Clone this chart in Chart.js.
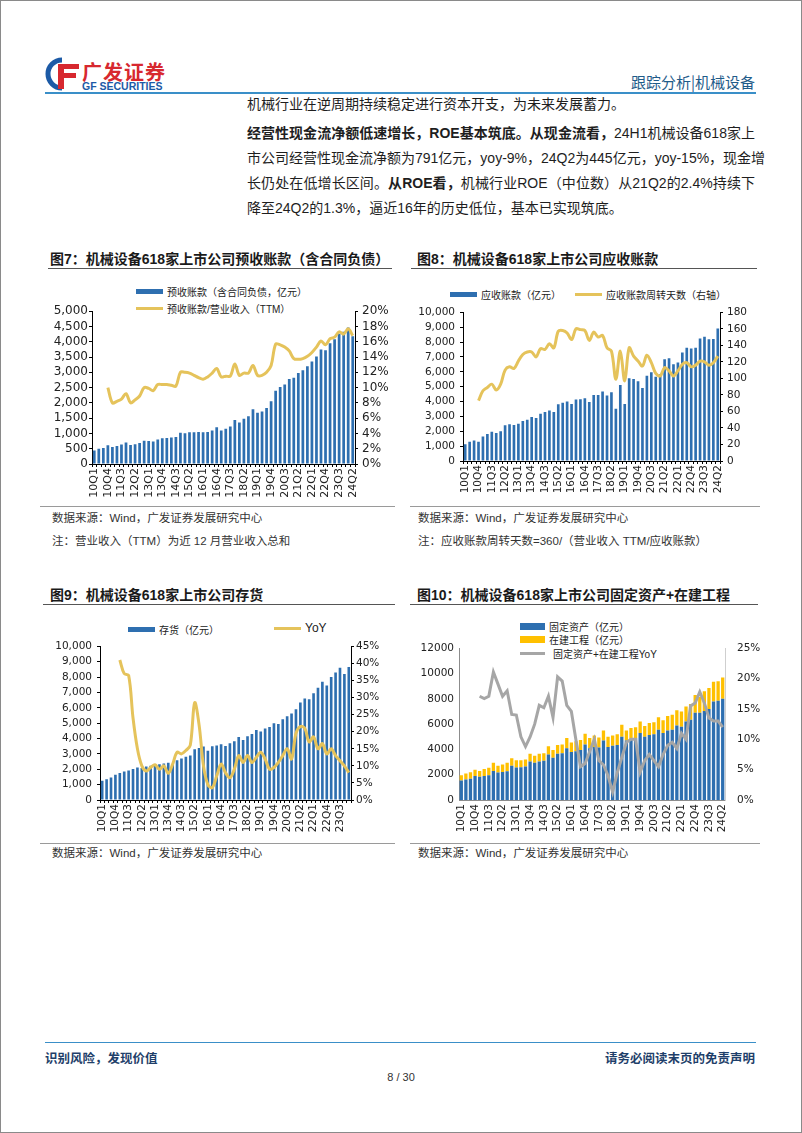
<!DOCTYPE html>
<html>
<head>
<meta charset="utf-8">
<script src="https://cdn.jsdelivr.net/npm/chart.js@4.4.1/dist/chart.umd.min.js"></script>
<style>
  html, body { margin: 0; padding: 0; background: #fff; }
  #page { position: relative; width: 802px; height: 1133px; overflow: hidden;
          font-family: "Liberation Sans", "Noto Sans CJK SC", sans-serif; color: #222; }
  #frame { position: absolute; left: 0; top: 0; width: 800px; height: 1131px; border: 1px solid #8a8a8a; pointer-events: none; }
  .abs { position: absolute; white-space: nowrap; }
  .para { position: absolute; left: 247px; font-size: 14px; line-height: 18px; white-space: nowrap; color: #1e1e1e; }
  .just { width: 508px; text-align: justify; text-align-last: justify; }
  .title { position: absolute; font-size: 14px; font-weight: bold; color: #1a1a1a; white-space: nowrap; }
  .rule { position: absolute; height: 1px; background: #555; }
  .sep { position: absolute; height: 1px; background: #9a9a9a; }
  .src { position: absolute; font-size: 11.5px; color: #333; white-space: nowrap; }
  .leg { position: absolute; font-size: 10px; color: #222; white-space: nowrap; display: flex; align-items: center; }
  .sw-bar { display: inline-block; width: 27px; height: 5px; background: #2E6FB0; margin-right: 4px; }
  .sw-line { display: inline-block; width: 27px; height: 3px; background: #E5C35B; margin-right: 4px; }
  canvas { position: absolute; }
</style>
</head>
<body>
<div id="page">
  <!-- header -->
  <svg class="abs" style="left:45px;top:57px" width="36" height="34" viewBox="0 0 36 34">
    <path d="M17 3 A14 14 0 1 0 17 31" fill="none" stroke="#1C5AA6" stroke-width="5"/>
    <path d="M13 7 H34 V12 H19 V16 H31 V21 H19 V32 H13 Z" fill="#D7282F"/>
  </svg>
  <div class="abs" style="left:82px;top:57px;font-size:20px;font-weight:bold;color:#D7282F;letter-spacing:1px;font-family:'Noto Sans CJK SC'">广发证券</div>
  <div class="abs" style="left:82px;top:80px;font-size:10.5px;font-weight:bold;color:#1C5AA6">GF SECURITIES</div>
  <div class="abs" style="right:47px;top:71px;font-size:15px;color:#1F5C8A;font-family:'Noto Sans CJK SC'">跟踪分析|机械设备</div>
  <div class="abs" style="left:45px;top:92px;width:711px;height:2px;background:#3A8FC8"></div>

  <!-- body text -->
  <div class="para" style="top:95px">机械行业在逆周期持续稳定进行资本开支，为未来发展蓄力。</div>
  <div class="para just" style="top:124px"><b>经营性现金流净额低速增长，ROE基本筑底。从现金流看，</b>24H1机械设备618家上</div>
  <div class="para just" style="top:149px">市公司经营性现金流净额为791亿元，yoy-9%，24Q2为445亿元，yoy-15%，现金增</div>
  <div class="para just" style="top:174px">长仍处在低增长区间。<b>从ROE看，</b>机械行业ROE（中位数）从21Q2的2.4%持续下</div>
  <div class="para" style="top:199px">降至24Q2的1.3%，逼近16年的历史低位，基本已实现筑底。</div>

  <!-- chart titles row 1 -->
  <div class="title" style="left:50px;top:248px">图7：机械设备618家上市公司预收账款（含合同负债）</div>
  <div class="rule" style="left:48px;top:268px;width:344px"></div>
  <div class="title" style="left:417px;top:248px">图8：机械设备618家上市公司应收账款</div>
  <div class="rule" style="left:411px;top:268px;width:346px"></div>

  <!-- legends row 1 -->
  <div class="leg" style="left:136px;top:284px"><span class="sw-bar"></span>预收账款（含合同负债，亿元）</div>
  <div class="leg" style="left:136px;top:301px"><span class="sw-line"></span>预收账款/营业收入（TTM）</div>
  <div class="leg" style="left:450px;top:287px"><span class="sw-bar"></span>应收账款（亿元）</div>
  <div class="leg" style="left:575px;top:287px"><span class="sw-line"></span>应收账款周转天数（右轴）</div>

  <canvas id="chart7" width="355" height="204" style="left:40px;top:300px"></canvas>
  <canvas id="chart8" width="345" height="205" style="left:410px;top:301px"></canvas>

  <div class="sep" style="left:40px;top:506px;width:355px"></div>
  <div class="sep" style="left:410px;top:506px;width:350px"></div>
  <div class="src" style="left:52px;top:509px">数据来源：Wind，广发证券发展研究中心</div>
  <div class="src" style="left:52px;top:532px">注：营业收入（TTM）为近 12 月营业收入总和</div>
  <div class="src" style="left:418px;top:509px">数据来源：Wind，广发证券发展研究中心</div>
  <div class="src" style="left:418px;top:532px">注：应收账款周转天数=360/（营业收入 TTM/应收账款）</div>

  <!-- chart titles row 2 -->
  <div class="title" style="left:50px;top:584px">图9：机械设备618家上市公司存货</div>
  <div class="rule" style="left:43px;top:604px;width:352px"></div>
  <div class="title" style="left:417px;top:584px">图10：机械设备618家上市公司固定资产+在建工程</div>
  <div class="rule" style="left:410px;top:604px;width:348px"></div>

  <!-- legends row 2 -->
  <div class="leg" style="left:128px;top:622px"><span class="sw-bar"></span>存货（亿元）</div>
  <div class="leg" style="left:274px;top:621px;font-size:12px"><span class="sw-line"></span>YoY</div>
  <div class="leg" style="left:520px;top:619px"><span class="sw-bar" style="height:7px;width:25px"></span>固定资产（亿元）</div>
  <div class="leg" style="left:520px;top:632px"><span class="sw-bar" style="height:7px;width:25px;background:#FFC000"></span>在建工程（亿元）</div>
  <div class="leg" style="left:520px;top:646px"><span class="sw-line" style="background:#A6A6A6;width:25px;margin-right:8px"></span>固定资产+在建工程YoY</div>

  <canvas id="chart9" width="351" height="205" style="left:40px;top:635px"></canvas>
  <canvas id="chart10" width="355" height="207" style="left:410px;top:633px"></canvas>

  <div class="sep" style="left:40px;top:843px;width:355px"></div>
  <div class="sep" style="left:410px;top:843px;width:350px"></div>
  <div class="src" style="left:52px;top:844px">数据来源：Wind，广发证券发展研究中心</div>
  <div class="src" style="left:418px;top:844px">数据来源：Wind，广发证券发展研究中心</div>

  <!-- footer -->
  <div class="abs" style="left:45px;top:1042px;width:711px;height:1px;background:#3A8FC8"></div>
  <div class="abs" style="left:45px;top:1048px;font-size:12.5px;font-weight:bold;color:#1f3f6a;font-family:'Noto Sans CJK SC'">识别风险，发现价值</div>
  <div class="abs" style="right:47px;top:1048px;font-size:12.5px;font-weight:bold;color:#1f3f6a;font-family:'Noto Sans CJK SC'">请务必阅读末页的免责声明</div>
  <div class="abs" style="left:0;width:802px;text-align:center;top:1071px;font-size:11px;color:#333">8 / 30</div>

  <div id="frame"></div>
</div>

<script>
// quarter labels 10Q1 .. 24Q2
const quarters = ['10Q1','10Q2','10Q3','10Q4','11Q1','11Q2','11Q3','11Q4','12Q1','12Q2','12Q3','12Q4',
  '13Q1','13Q2','13Q3','13Q4','14Q1','14Q2','14Q3','14Q4','15Q1','15Q2','15Q3','15Q4',
  '16Q1','16Q2','16Q3','16Q4','17Q1','17Q2','17Q3','17Q4','18Q1','18Q2','18Q3','18Q4',
  '19Q1','19Q2','19Q3','19Q4','20Q1','20Q2','20Q3','20Q4','21Q1','21Q2','21Q3','21Q4',
  '22Q1','22Q2','22Q3','22Q4','23Q1','23Q2','23Q3','23Q4','24Q1','24Q2'];
// inventory chart stops at 24Q1
const quartersInv = ['10Q1','10Q2','10Q3','10Q4','11Q1','11Q2','11Q3','11Q4','12Q1','12Q2','12Q3','12Q4',
  '13Q1','13Q2','13Q3','13Q4','14Q1','14Q2','14Q3','14Q4','15Q1','15Q2','15Q3','15Q4',
  '16Q1','16Q2','16Q3','16Q4','17Q1','17Q2','17Q3','17Q4','18Q1','18Q2','18Q3','18Q4',
  '19Q1','19Q2','19Q3','19Q4','20Q1','20Q2','20Q3','20Q4','21Q1','21Q2','21Q3','21Q4',
  '22Q1','22Q2','22Q3','22Q4','23Q1','23Q2','23Q3','23Q4','24Q1'];

// 图7 预收账款（亿元） / 预收账款占营收TTM（%）
const advanceReceipts = [440, 500, 520, 610, 560, 590, 640, 700, 620, 650, 690, 760, 750, 740, 800, 840,
  850, 870, 880, 1020, 1010, 1040, 1040, 1050, 1040, 1050, 1100, 1200, 1100, 1150, 1230, 1440,
  1360, 1480, 1560, 1790, 1680, 1720, 1830, 2050, 2400, 2520, 2600, 2780, 2820, 2980, 3070, 3200,
  3350, 3520, 3750, 3720, 3950, 4080, 4260, 4330, 4470, 4180];
const advanceRatio = [null, null, null, 10.0, 8.0, 8.2, 8.5, 9.2, 8.0, 8.4, 8.9, 10.0, 9.9, 9.6, 10.4, 10.4,
  10.4, 10.3, 10.2, 12.0, 12.0, 11.9, 11.6, 11.3, 11.1, 11.4, 11.9, 12.5, 11.4, 11.5, 11.5, 13.1,
  11.6, 11.9, 11.9, 12.9, 11.6, 11.6, 12.0, 12.9, 15.7, 15.6, 15.3, 14.8, 13.8, 13.7, 13.8, 14.1,
  14.6, 15.3, 16.1, 15.6, 16.4, 16.6, 17.3, 17.0, 17.7, 16.8];

// 图8 应收账款（亿元） / 周转天数
const receivables = [1130, 1290, 1380, 1290, 1640, 1820, 1960, 1890, 2000, 2400, 2470, 2420, 2510, 2690, 2780, 2960,
  2890, 3180, 3290, 3400, 3290, 3820, 3910, 4000, 3840, 4130, 4160, 4220, 3960, 4440, 4440, 4670,
  4400, 4620, 3510, 5110, 3840, 5560, 5510, 5360, 4910, 5730, 5960, 5670, 5840, 6840, 6910, 6510,
  6620, 7290, 7620, 7560, 7620, 8240, 8360, 8180, 8200, 8910];
const receivableDays = [null, null, null, 73, 85, 89, 93, 86, 93, 110, 114, 112, 121, 129, 132, 132,
  126, 136, 135, 142, 137, 157, 158, 155, 147, 160, 159, 158, 146, 156, 150, 152,
  137, 133, 99, 133, 97, 137, 127, 121, 115, 128, 119, 106, 103, 113, 109, 103,
  109, 117, 119, 114, 116, 121, 120, 116, 119, 127];

// 图9 存货（亿元） / YoY（%）
const inventory = [1250, 1350, 1470, 1650, 1760, 1850, 1920, 2020, 2120, 2080, 2180, 2230, 2280, 2320, 2370, 2430,
  2300, 2580, 2700, 2820, 2900, 3300, 3380, 3480, 3200, 3500, 3550, 3620, 3520, 3700, 3820, 4100,
  3900, 4150, 4300, 4550, 4450, 4650, 4750, 5000, 4950, 5250, 5450, 5620, 5900, 6350, 6600, 6550,
  6950, 7300, 7700, 7450, 8000, 8300, 8600, 8200, 8650];
const inventoryYoY = [null, null, null, null, 41, 37, 36.5, 24, 15, 10, 8.5, 9.5, 10.3, 9, 10, 7.8,
  10.5, 14, 13.5, 14.5, 16, 28.5, 22, 10, 4.5, 3.6, 7, 10.5, 8, 6.5, 9, 13,
  11, 13, 11, 12.5, 14, 12, 9, 9.5, 11, 13, 15, 12, 19.5, 21.5, 21, 17,
  18.5, 15, 16.5, 13.5, 15, 13, 11.5, 10, 8];

// 图10 固定资产、在建工程（亿元） / 合计YoY（%）
const fixedAssets = [1550, 1620, 1680, 1900, 1830, 1900, 1950, 2300, 2180, 2220, 2280, 2700, 2580, 2600, 2650, 3050,
  2950, 3050, 3100, 3600, 3350, 3650, 3700, 4100, 3800, 3850, 3950, 4400, 4100, 4200, 4150, 4700,
  4200, 4300, 4350, 5000, 4700, 4850, 4900, 5300, 5000, 5150, 5200, 5550, 5300, 5500, 5550, 5900,
  5800, 6200, 6350, 6900, 6900, 7050, 7200, 7800, 7850, 8000];
const construction = [400, 480, 520, 500, 470, 550, 600, 650, 520, 580, 670, 600, 570, 550, 550, 600,
  550, 600, 600, 650, 600, 700, 700, 800, 750, 800, 800, 850, 800, 900, 800, 800,
  800, 800, 850, 950, 800, 850, 850, 900, 850, 950, 950, 1000, 1000, 1150, 1200, 1200,
  1200, 1200, 1250, 1400, 1250, 1550, 1650, 1550, 1550, 1700];
const fixedYoY = [null, null, null, null, 17.1, 16.7, 17.1, 21.1, 19.1, 17.1, 18.0, 14.1, 14.0, 10.4, 8.8, 10.4,
  12.5, 15.6, 15.2, 17.1, 13.6, 20.3, 19.6, 15.6, 14.6, 9.9, 5.5, 6.0, 8.0, 10.0, 6.5, 5.8,
  4.0, 1.3, 4.5, 7.0, 9.5, 10.0, 10.0, 4.6, 6.5, 7.5, 6.5, 5.5, 7.5, 9.0, 9.5, 8.5,
  11.0, 10.0, 15.5, 16.0, 17.8, 16.0, 13.5, 13.0, 13.0, 12.0];

const BLUE = '#2E6FB0';
const GOLD = '#E5C35B';
const ORANGE = '#FFC000';
const GREY = '#A6A6A6';

Chart.defaults.font.family = '"DejaVu Sans", "Liberation Sans", sans-serif';
Chart.defaults.color = '#222';

// builds the shared option set; box sizes keep each plot area where the page has it
function makeOptions(cfg) {
  const axisColor = cfg.axisColor || '#000';
  const showTicks = cfg.showTicks !== false;
  return {
    responsive: false,
    animation: false,
    devicePixelRatio: 1,
    layout: { padding: { top: 10, left: 0, right: 0, bottom: 0 } },
    plugins: { legend: { display: false }, tooltip: { enabled: false } },
    scales: {
      x: {
        stacked: !!cfg.stacked,
        offset: true,
        grid: { display: showTicks, drawOnChartArea: false, drawTicks: true, tickLength: 3, color: axisColor, offset: true },
        border: { display: true, color: axisColor },
        ticks: {
          autoSkip: false, minRotation: 90, maxRotation: 90, padding: 1,
          font: { size: cfg.xFont }, color: '#222',
          callback: (v, i) => (i % 3 === 0 ? cfg.labels[i] : '')
        },
        afterFit: s => { s.height = cfg.xH; }
      },
      y: {
        position: 'left',
        stacked: !!cfg.stacked,
        min: 0, max: cfg.yMax,
        grid: { display: showTicks, drawOnChartArea: false, tickLength: 3, color: axisColor },
        border: { display: true, color: axisColor },
        ticks: { autoSkip: false, stepSize: cfg.yStep, padding: cfg.yPad, font: { size: cfg.yFont }, color: '#222', callback: cfg.yFmt },
        afterFit: s => { s.width = cfg.yW; }
      },
      y1: {
        position: 'right',
        min: 0, max: cfg.y1Max,
        grid: { display: showTicks, drawOnChartArea: false, tickLength: 3, color: axisColor },
        border: { display: true, color: cfg.y1AxisColor || axisColor },
        ticks: { autoSkip: false, stepSize: cfg.y1Step, padding: cfg.y1Pad, font: { size: cfg.yFont }, color: '#222', callback: cfg.y1Fmt },
        afterFit: s => { s.width = cfg.y1W; }
      }
    }
  };
}

const comma = v => v.toLocaleString('en-US');
const pct = v => v + '%';

document.addEventListener('DOMContentLoaded', () => {
  // 图7
  new Chart(document.getElementById('chart7'), {
    data: {
      labels: quarters,
      datasets: [
        { type: 'line', data: advanceRatio, yAxisID: 'y1', borderColor: GOLD, borderWidth: 3, pointRadius: 0, tension: 0.35, order: 1 },
        { type: 'bar', data: advanceReceipts, yAxisID: 'y', backgroundColor: BLUE, barPercentage: 0.6, categoryPercentage: 1, order: 2 }
      ]
    },
    options: makeOptions({ labels: quarters, xFont: 11, xH: 40, yMax: 5000, yStep: 500, yFont: 12, yPad: 1, yFmt: comma, yW: 52,
      y1Max: 20, y1Step: 2, y1Pad: 4, y1Fmt: pct, y1W: 40 })
  });

  // 图8
  new Chart(document.getElementById('chart8'), {
    data: {
      labels: quarters,
      datasets: [
        { type: 'line', data: receivableDays, yAxisID: 'y1', borderColor: GOLD, borderWidth: 3, pointRadius: 0, tension: 0.35, order: 1 },
        { type: 'bar', data: receivables, yAxisID: 'y', backgroundColor: BLUE, barPercentage: 0.6, categoryPercentage: 1, order: 2 }
      ]
    },
    options: makeOptions({ labels: quarters, xFont: 10.5, xH: 45, yMax: 10000, yStep: 1000, yFont: 10.5, yPad: 5, yFmt: comma, yW: 53,
      y1Max: 180, y1Step: 20, y1Pad: 4, y1Fmt: v => v, y1W: 35 })
  });

  // 图9
  new Chart(document.getElementById('chart9'), {
    data: {
      labels: quartersInv,
      datasets: [
        { type: 'line', data: inventoryYoY, yAxisID: 'y1', borderColor: GOLD, borderWidth: 3, pointRadius: 0, tension: 0.35, order: 1 },
        { type: 'bar', data: inventory, yAxisID: 'y', backgroundColor: BLUE, barPercentage: 0.6, categoryPercentage: 1, order: 2 }
      ]
    },
    options: makeOptions({ labels: quartersInv, xFont: 10.5, xH: 40, yMax: 10000, yStep: 1000, yFont: 10.5, yPad: 5, yFmt: comma, yW: 60,
      y1Max: 45, y1Step: 5, y1Pad: 2, y1Fmt: pct, y1W: 40 })
  });

  // 图10
  new Chart(document.getElementById('chart10'), {
    data: {
      labels: quarters,
      datasets: [
        { type: 'line', data: fixedYoY, yAxisID: 'y1', borderColor: GREY, borderWidth: 3, pointRadius: 0, tension: 0, order: 1 },
        { type: 'bar', data: fixedAssets, yAxisID: 'y', backgroundColor: BLUE, barPercentage: 0.72, categoryPercentage: 1, order: 2 },
        { type: 'bar', data: construction, yAxisID: 'y', backgroundColor: ORANGE, barPercentage: 0.72, categoryPercentage: 1, order: 2 }
      ]
    },
    options: makeOptions({ labels: quarters, stacked: true, showTicks: false, axisColor: '#8c8c8c', y1AxisColor: '#cfcfcf',
      xFont: 10.5, xH: 40, yMax: 12000, yStep: 2000, yFont: 10.5, yPad: 2, yFmt: v => v, yW: 49,
      y1Max: 25, y1Step: 5, y1Pad: 9, y1Fmt: pct, y1W: 40 })
  });
});
</script>
</body>
</html>
